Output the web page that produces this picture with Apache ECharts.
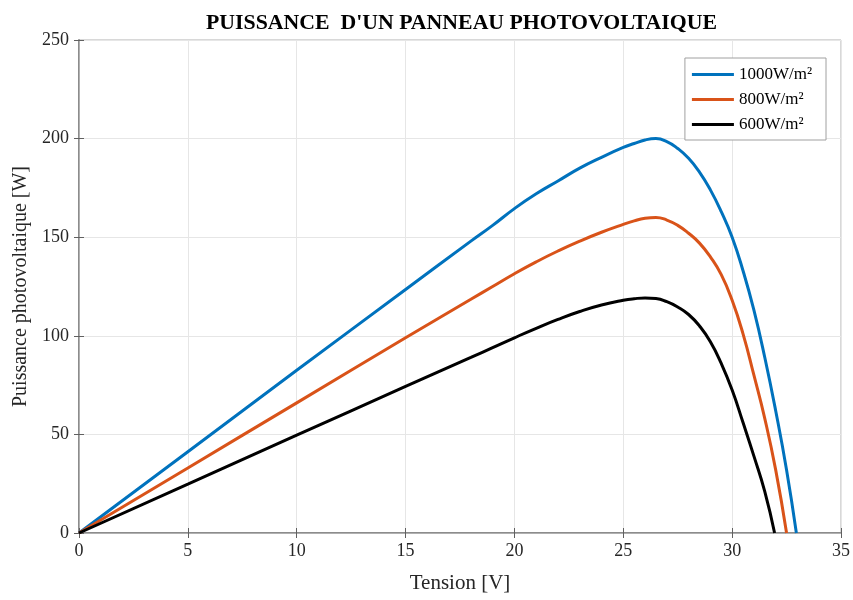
<!DOCTYPE html>
<html>
<head>
<meta charset="utf-8">
<script src="https://cdn.jsdelivr.net/npm/echarts@6/dist/echarts.min.js"></script>
<style>
  html, body { margin: 0; padding: 0; background: #fff; }
  #chart { width: 853px; height: 600px; }
</style>
</head>
<body>
<div id="chart"></div>
<script>
  // valeurs : [tension V, puissance W]
  let seriesNames = ['1000W/m²', '800W/m²', '600W/m²'];
  let p1000 = [[0, 0], [5, 41.2], [10, 82.5], [15, 123.5], [18, 148], [19, 156], [20, 164.5], [21, 172],
    [22, 178.5], [23, 185], [24, 190.5], [25, 195.5], [25.5, 197.5], [26, 199.3], [26.5, 200], [27, 198.5],
    [27.5, 195], [28, 190], [28.5, 183], [29, 174], [29.5, 163], [30, 150], [30.5, 133], [31, 113],
    [31.5, 89], [32, 62], [32.5, 32], [32.95, 0]];
  let p800 = [[0, 0], [5, 33], [10, 66], [15, 99], [18, 118.5], [19, 125], [20, 131.5], [21, 137.5],
    [22, 143], [23, 148], [24, 152.5], [25, 156.5], [25.5, 158.3], [26, 159.6], [26.5, 160], [27, 158.7],
    [27.5, 156], [28, 152], [28.5, 147], [29, 140], [29.5, 131], [30, 118], [30.5, 101], [31, 80],
    [31.5, 58], [32, 32], [32.5, 0]];
  let p600 = [[0, 0], [5, 24.8], [10, 49.6], [15, 74.3], [18, 89], [19, 94], [20, 99], [21, 103.8],
    [22, 108.3], [23, 112.3], [24, 115.6], [25, 118], [25.5, 118.8], [26, 119.2], [26.5, 118.9], [27, 117.3],
    [27.5, 114.6], [28, 110.8], [28.5, 105], [29, 97], [29.5, 86], [30, 72.5], [30.5, 56], [31, 39],
    [31.5, 21], [31.95, 0]];
  let colors = ['#0072BD', '#D95319', '#000000'];

  let chart = echarts.init(document.getElementById('chart'));
  let font = 'Liberation Serif';

  let baseX = {
    type: 'value', min: 0, max: 35, interval: 5
  };
  let baseY = {
    type: 'value', min: 0, max: 250, interval: 50
  };

  let option = {
    animation: false,
    title: {
      text: "PUISSANCE  D'UN PANNEAU PHOTOVOLTAIQUE",
      left: 201,
      top: 7,
      textStyle: { fontFamily: font, fontSize: 21.8, fontWeight: 'bold', color: '#000' }
    },
    legend: {
      orient: 'vertical',
      right: 27,
      top: 58,
      backgroundColor: '#fff',
      borderColor: '#a0a0a0',
      borderWidth: 1,
      padding: [8, 14, 7, 7],
      itemGap: 8,
      itemWidth: 42,
      itemHeight: 3,
      icon: 'rect',
      textStyle: { fontFamily: font, fontSize: 17, color: '#000' },
      data: seriesNames
    },
    grid: {
      left: 79, right: 8, top: 40, bottom: 67,
      show: true, borderColor: '#b0b0b0', borderWidth: 1
    },
    xAxis: [
      Object.assign({}, baseX, {
        position: 'bottom',
        name: 'Tension [V]',
        nameLocation: 'middle',
        nameGap: 40,
        nameTextStyle: { fontFamily: font, fontSize: 21, color: '#262626' },
        axisLine: { show: true, lineStyle: { color: '#8c8c8c', width: 2 } },
        axisTick: { show: true, inside: true, length: 5, lineStyle: { color: '#606060' } },
        axisLabel: { fontFamily: font, fontSize: 18, color: '#262626', margin: 9 },
        splitLine: { show: true, lineStyle: { color: '#e6e6e6' } }
      }),
      Object.assign({}, baseX, {
        position: 'top',
        axisLine: { show: true, lineStyle: { color: '#b0b0b0', width: 1 } },
        axisTick: { show: true, inside: true, length: 5, lineStyle: { color: '#606060' } },
        axisLabel: { show: false },
        splitLine: { show: false }
      })
    ],
    yAxis: [
      Object.assign({}, baseY, {
        position: 'left',
        name: 'Puissance photovoltaique [W]',
        nameLocation: 'middle',
        nameGap: 38,
        nameTextStyle: { fontFamily: font, fontSize: 20, color: '#262626' },
        axisLine: { show: true, lineStyle: { color: '#8c8c8c', width: 2 } },
        axisTick: { show: true, inside: true, length: 5, lineStyle: { color: '#606060' } },
        axisLabel: { fontFamily: font, fontSize: 18, color: '#262626', margin: 10 },
        splitLine: { show: true, lineStyle: { color: '#e6e6e6' } }
      }),
      Object.assign({}, baseY, {
        position: 'right',
        axisLine: { show: true, lineStyle: { color: '#b0b0b0', width: 1 } },
        axisTick: { show: true, inside: true, length: 5, lineStyle: { color: '#606060' } },
        axisLabel: { show: false },
        splitLine: { show: false }
      })
    ],
    series: []
  };

  let allData = [p1000, p800, p600];
  for (let key in allData) {
    option.series.push({
      name: seriesNames[key],
      type: 'line',
      data: allData[key],
      showSymbol: false,
      smooth: 0.5,
      lineStyle: { width: 3, color: colors[key] },
      itemStyle: { color: colors[key] }
    });
  }

  chart.setOption(option);
</script>
</body>
</html>
